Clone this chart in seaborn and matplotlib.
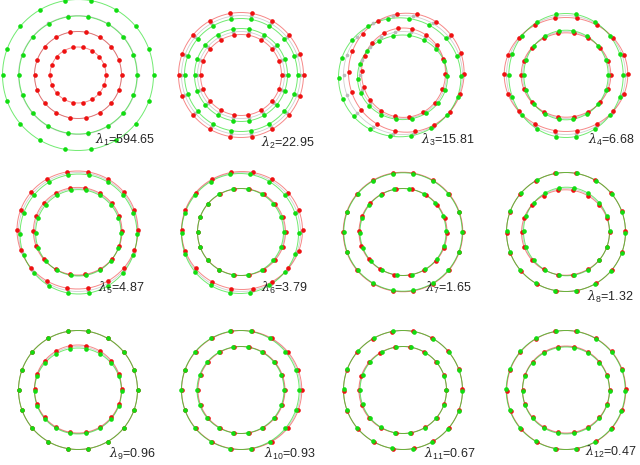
import numpy as np
import pandas as pd
import matplotlib
matplotlib.use("Agg")
import matplotlib.pyplot as plt
import seaborn as sns

# ---------------- data ----------------
lambda_values = [594.65, 22.95, 15.81, 6.68, 4.87, 3.79, 1.65, 1.32, 0.96, 0.93, 0.67, 0.47]
angles_deg = [0, 20, 40, 60, 80, 100, 120, 140, 160, 180, 200, 220, 240, 260, 280, 300, 320, 340]
mean_outer_r = 59.5
mean_inner_r = 43.5

# deviation of the red shape from the mean shape (green = mean - deviation)
outer_dx  = [0, 0, 3.3, 0, -0.5, 1.0, 0, 0, 0, 0.7, 0, 0.3]
outer_dy  = [0, 0, 2.3, 0.5, 2.0, 1.5, 0, 0, 0, 0, 0, 0]
outer_drx = [-16, 3, -1.7, 2.3, 1.0, 1.0, 0.3, 0, 0, 0.6, 0, 0]
outer_dry = [-16, 3, 0, -2.5, -0.5, -0.5, 0.3, 0, 0, 0, 0, 0]
outer_rot = [0, 0, -1, 0, 0, 0, 0, 0.5, 0, 0, 0.8, 0.5]
inner_dx  = [0, 0, 0.5, 0, -0.3, 0.5, 0, -0.5, 0, 0.5, -0.3, 0]
inner_dy  = [0, 0, 2.3, 0, 0.8, 0, 0, -0.5, 1.0, 0, 0, 0.5]
inner_drx = [-15.5, -3, -1.5, 1.3, 0.8, 0.5, 0.5, 0.5, 0, 0, 0.3, 0]
inner_dry = [-15.5, -3, 1.2, -1.3, 0.3, 0, 0, -0.8, 0.5, 0, 0, 0]
inner_rot = [0, 0, -2, 0, 0, 0, -1.5, 0, 0, 0, 0.6, 0]

# ---------------- layout (pixels) ----------------
W, H = 640, 465
col_centers = [78, 241, 403, 566]
row_centers = [75, 232, 390]
label_right = [155, 315, 475, 635, 145, 308, 472, 634, 156, 315, 475, 636]
label_y = [140, 143, 140, 140, 288, 288, 288, 297, 454, 454, 454, 452]

RED = "#ee1111"
GREEN = "#11dd11"
GRAY = "#bbbbbb"

sns.set_style("white")
plt.rcParams["font.family"] = ["Liberation Sans", "DejaVu Sans"]
plt.rcParams["mathtext.fontset"] = "dejavuserif"

fig = plt.figure(figsize=(W / 100, H / 100), dpi=100)

curve_deg = np.linspace(0, 360, 181)


def ring(cx, cy, rx, ry, rot, deg):
    th = np.deg2rad(np.asarray(deg, dtype=float) + rot)
    return cx + rx * np.cos(th), cy + ry * np.sin(th)


for i in range(12):
    r, c = divmod(i, 4)
    cxp, cyp = col_centers[c], row_centers[r]
    ax = fig.add_axes([(cxp - 80) / W, 1 - (cyp + 80) / H, 160 / W, 160 / H])
    pts, lines = [], []
    for shape, sgn in (("mean", 0), ("red", 1), ("green", -1)):
        for ringname, base, dx, dy, drx, dry, rot in (
            ("outer", mean_outer_r, outer_dx[i], outer_dy[i], outer_drx[i], outer_dry[i], outer_rot[i]),
            ("inner", mean_inner_r, inner_dx[i], inner_dy[i], inner_drx[i], inner_dry[i], inner_rot[i]),
        ):
            args = (sgn * dx, sgn * dy, base + sgn * drx, base + sgn * dry, sgn * rot)
            x, y = ring(*args, angles_deg)
            pts.append(pd.DataFrame({"x": x, "y": y, "shape": shape, "ring": ringname}))
            xc, yc = ring(*args, curve_deg)
            lines.append(pd.DataFrame({"x": xc, "y": yc, "shape": shape, "ring": ringname}))
    dp = pd.concat(pts, ignore_index=True)
    dl = pd.concat(lines, ignore_index=True)
    for shape, col, lw, alpha, size in (("mean", GRAY, 0.6, 0.7, 7),
                                        ("red", RED, 0.7, 0.5, 11),
                                        ("green", GREEN, 0.7, 0.6, 11)):
        sns.lineplot(data=dl[dl["shape"] == shape], x="x", y="y", units="ring",
                     estimator=None, sort=False, color=col, lw=lw, alpha=alpha,
                     ax=ax, legend=False)
        sns.scatterplot(data=dp[dp["shape"] == shape], x="x", y="y", color=col, s=size,
                        linewidth=0, ax=ax, legend=False, zorder=3)
    ax.set_xlim(-80, 80)
    ax.set_ylim(-80, 80)
    ax.set_aspect("equal")
    ax.axis("off")

    fig.text(label_right[i] / W, 1 - label_y[i] / H,
             r"$\lambda_{\mathregular{%d}}$=%.2f" % (i + 1, lambda_values[i]),
             ha="right", va="center", fontsize=9)

fig.savefig("out.png", dpi=100)
